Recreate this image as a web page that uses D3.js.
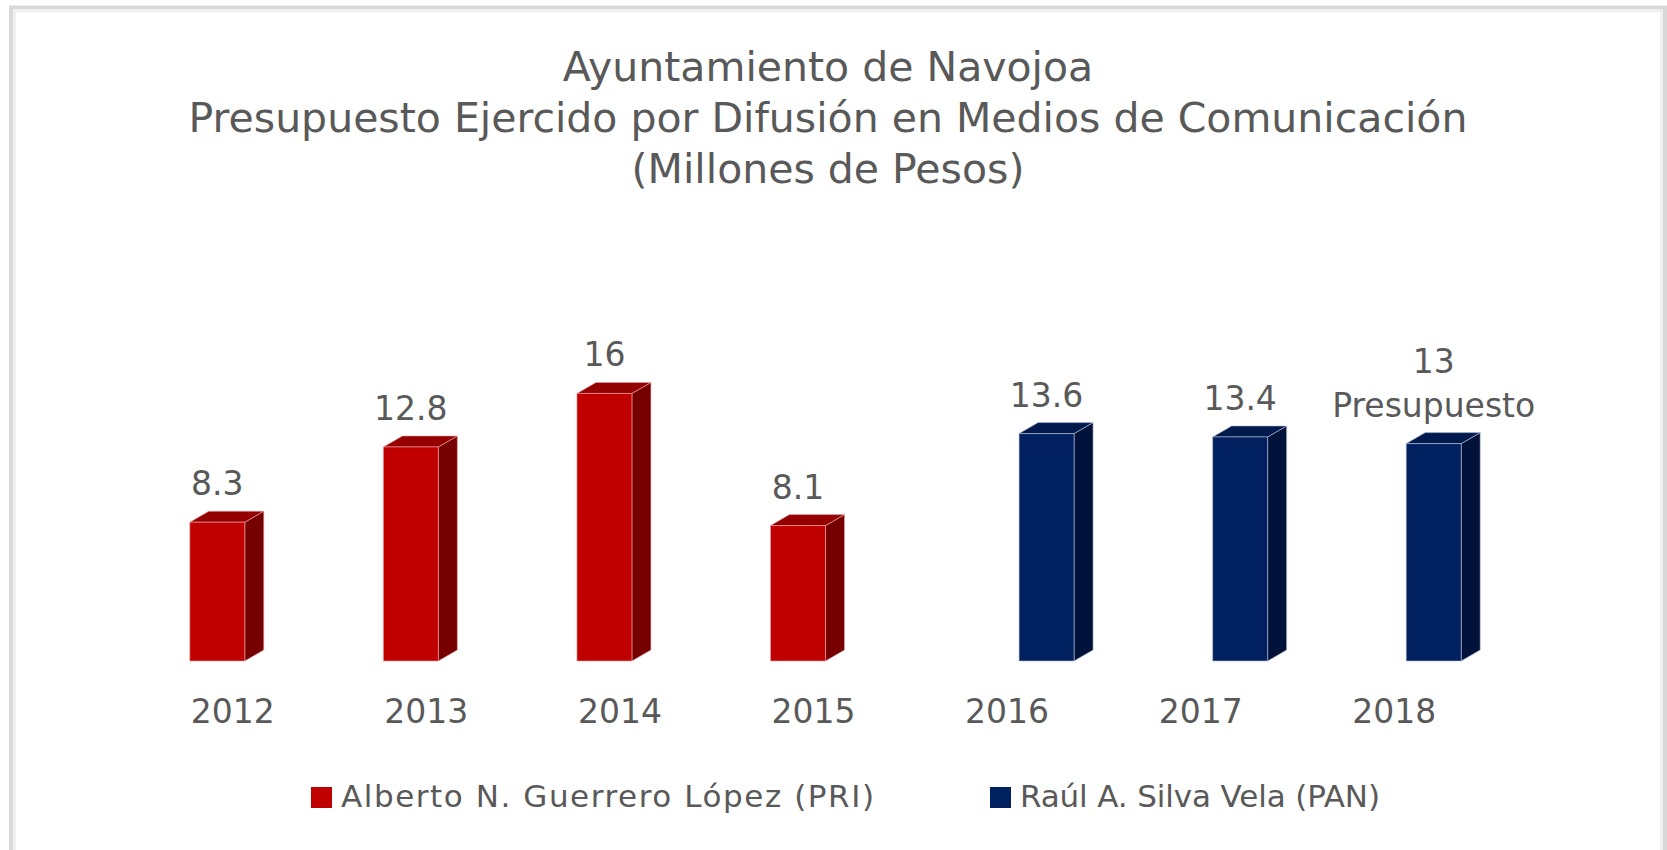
<!DOCTYPE html>
<html>
<head>
<meta charset="utf-8">
<script src="https://cdn.jsdelivr.net/npm/d3@7"></script>
<style>
  body { margin: 0; background: #fff; }
  svg { display: block; }
</style>
</head>
<body>
<div id="chart"></div>
<script>
// Datos //////////////////////////////////////////////////////////////////
const years   = ['2012', '2013', '2014', '2015', '2016', '2017', '2018'];
const values  = [8.3, 12.8, 16, 8.1, 13.6, 13.4, 13];
const party   = ['PRI', 'PRI', 'PRI', 'PRI', 'PAN', 'PAN', 'PAN'];
const notes   = ['', '', '', '', '', '', 'Presupuesto'];
const seriesKeys  = ['PRI', 'PAN'];
const seriesNames = ['Alberto N. Guerrero López (PRI)', 'Raúl A. Silva Vela (PAN)'];
const titleLines  = [
  'Ayuntamiento de Navojoa',
  'Presupuesto Ejercido por Difusión en Medios de Comunicación',
  '(Millones de Pesos)'
];

// Setup //////////////////////////////////////////////////////////////////
const width = 1667;
const height = 850;
const font = '"DejaVu Sans", Verdana, sans-serif';
const textColor = '#595959';

const colors = {
  PRI: { front: '#c00000', top: '#940000', side: '#760000', edge: '#e9a9a9' },
  PAN: { front: '#002060', top: '#001a4e', side: '#00123a', edge: '#b9c2d6' }
};

const svg = d3.select('#chart').append('svg')
  .attr('width', width)
  .attr('height', height)
  .attr('viewBox', [0, 0, width, height]);

// marco
svg.append('rect')
  .attr('x', 11).attr('y', 7.5)
  .attr('width', 1654).attr('height', 900)
  .attr('fill', '#fff')
  .attr('stroke', '#d9d9d9')
  .attr('stroke-width', 4);
svg.append('rect')
  .attr('x', 14.5).attr('y', 11)
  .attr('width', 1647).attr('height', 900)
  .attr('fill', 'none')
  .attr('stroke', '#f0f0f0')
  .attr('stroke-width', 3);

// Titulo ////////////////////////////////////////////////////////////////
svg.append('g')
  .selectAll('text')
  .data(titleLines)
  .join('text')
  .attr('x', 828)
  .attr('y', (d, i) => 81 + i * 51)
  .attr('text-anchor', 'middle')
  .attr('font-family', font)
  .attr('font-size', 41)
  .attr('fill', textColor)
  .text(d => d);

// Escalas ///////////////////////////////////////////////////////////////
const x = d3.scaleBand().domain(years).range([148, 1503]).padding(0);
const xs = d3.scaleBand().domain(seriesKeys).range([0, x.bandwidth()]).paddingOuter(0.76);
const y = d3.scaleLinear().domain([0, 18]).range([661, 360]);

const depthX = 19, depthY = 11;

const data = years.map((yr, i) => ({ year: yr, value: values[i], party: party[i], note: notes[i] }));

const bars = svg.append('g').attr('id', 'barras')
  .selectAll('g')
  .data(data)
  .join('g');

bars.each(function(d) {
  const g = d3.select(this);
  const x0 = x(d.year) + xs(d.party);
  const w = xs.bandwidth();
  const yt = y(d.value);
  const yb = y(0);
  const c = colors[d.party];

  // cara lateral
  g.append('path')
    .attr('d', `M${x0 + w},${yt} L${x0 + w + depthX},${yt - depthY} L${x0 + w + depthX},${yb - depthY} L${x0 + w},${yb} Z`)
    .attr('fill', c.side)
    .attr('stroke', c.edge).attr('stroke-width', 1).attr('stroke-opacity', 0.6);
  // cara superior
  g.append('path')
    .attr('d', `M${x0},${yt} L${x0 + depthX},${yt - depthY} L${x0 + w + depthX},${yt - depthY} L${x0 + w},${yt} Z`)
    .attr('fill', c.top)
    .attr('stroke', c.edge).attr('stroke-width', 1).attr('stroke-opacity', 0.6);
  // frente
  g.append('rect')
    .attr('x', x0).attr('y', yt)
    .attr('width', w).attr('height', yb - yt)
    .attr('fill', c.front)
    .attr('stroke', c.edge).attr('stroke-width', 1).attr('stroke-opacity', 0.6);

  // etiquetas de valor
  const lines = d.note ? [String(d.value), d.note] : [String(d.value)];
  g.append('text')
    .attr('x', x0 + w / 2)
    .attr('text-anchor', 'middle')
    .attr('font-family', font)
    .attr('font-size', 33)
    .attr('fill', textColor)
    .selectAll('tspan')
    .data(lines)
    .join('tspan')
    .attr('x', x0 + w / 2)
    .attr('y', (t, i) => yt - 27 - (lines.length - 1 - i) * 44)
    .text(t => t);
});

// Eje x /////////////////////////////////////////////////////////////////
svg.append('g')
  .selectAll('text')
  .data(years)
  .join('text')
  .attr('x', d => x(d) + x.bandwidth() / 2 - 12)
  .attr('y', 723)
  .attr('text-anchor', 'middle')
  .attr('font-family', font)
  .attr('font-size', 33)
  .attr('fill', textColor)
  .text(d => d);

// Leyenda ///////////////////////////////////////////////////////////////
const legendX = [311, 990];
const legendTextLen = [533, 360];
const legend = svg.append('g')
  .selectAll('g')
  .data(seriesKeys)
  .join('g')
  .attr('transform', (d, i) => `translate(${legendX[i]},0)`);

legend.append('rect')
  .attr('x', 0).attr('y', 787)
  .attr('width', 21).attr('height', 21)
  .attr('fill', d => colors[d].front);

legend.append('text')
  .attr('x', 30)
  .attr('y', 807)
  .attr('font-family', font)
  .attr('font-size', 31)
  .attr('fill', textColor)
  .attr('textLength', (d, i) => legendTextLen[i])
  .attr('lengthAdjust', 'spacing')
  .text((d, i) => seriesNames[i]);
</script>
</body>
</html>
